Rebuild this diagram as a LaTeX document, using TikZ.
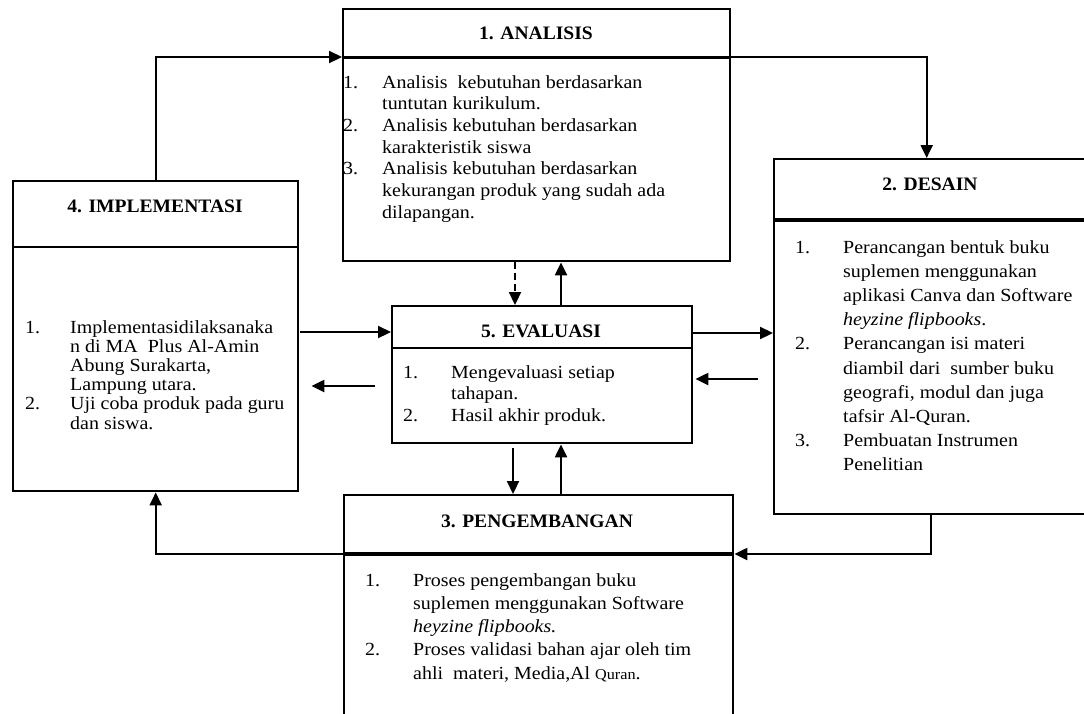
\documentclass[tikz,border=0pt]{standalone}
\usepackage{fontspec}
\setmainfont{Liberation Serif}[FakeStretch=1.08]
\newfontfamily\ttlfont{Liberation Serif}[FakeStretch=1.03]
\usetikzlibrary{arrows.meta}
\begin{document}
\begin{tikzpicture}[x=1pt,y=-1pt,
  box/.style={draw, line width=2.4pt, rectangle, inner sep=0pt, anchor=north west},
  arr/.style={line width=2.2pt, -{Triangle[length=13pt,width=12pt]}},
  hdiv/.style={line width=2.4pt},
  hdivthick/.style={line width=4pt},
  ttl/.style={font=\ttlfont\fontsize{19}{21}\selectfont\bfseries, anchor=base, inner sep=0pt},
  body/.style={anchor=base west, inner sep=0pt}
]
\fill[white] (0,0) rectangle (1084,713);
\useasboundingbox (0,0) rectangle (1084,713);

% boxes
\node[box, minimum width=387pt, minimum height=252pt] (ana) at (342,8) {};
\node[box, minimum width=317pt, minimum height=355pt] (des) at (773,158) {};
\node[box, minimum width=285pt, minimum height=310pt] (imp) at (12,180) {};
\node[box, minimum width=300pt, minimum height=137pt] (eva) at (391,305) {};
\node[box, minimum width=389pt, minimum height=232pt] (peng) at (343,494) {};

% divider coordinates
\coordinate (anaL) at (ana.west |- 0,57);
\coordinate (anaR) at (ana.east |- 0,57);
\coordinate (desL) at (des.west |- 0,220);
\coordinate (desR) at (des.east |- 0,220);
\coordinate (impL) at (imp.west |- 0,247);
\coordinate (impR) at (imp.east |- 0,247);
\coordinate (evaL) at (eva.west |- 0,348);
\coordinate (evaR) at (eva.east |- 0,348);
\coordinate (pengL) at (peng.west |- 0,554);
\coordinate (pengR) at (peng.east |- 0,554);

\draw[hdivthick, line width=3pt] (anaL) -- (anaR);
\draw[hdivthick] (desL) -- (desR);
\draw[hdiv] (impL) -- (impR);
\draw[hdiv] (evaL) -- (evaR);
\draw[hdivthick] (pengL) -- (pengR);

% titles
\node[ttl] (anaT) at (536,39) {1. ANALISIS};
\node[ttl] (desT) at (930,190) {2. DESAIN};
\node[ttl] (impT) at (155,212) {4. IMPLEMENTASI};
\node[ttl] (evaT) at (541,337) {5. EVALUASI};
\node[ttl] (pengT) at (537,527) {3. PENGEMBANGAN};

% body texts
\node[body, font=\fontsize{18.5}{21.7}\selectfont] (anaB) at (343,88) {\begin{tabular}[t]{@{}p{39pt}@{}l@{}}
1. & Analisis\ \ kebutuhan berdasarkan\\
   & tuntutan kurikulum.\\
2. & Analisis kebutuhan berdasarkan\\
   & karakteristik siswa\\
3. & Analisis kebutuhan berdasarkan\\
   & kekurangan produk yang sudah ada\\
   & dilapangan.
\end{tabular}};

\node[body, font=\fontsize{18.5}{24.2}\selectfont] (desB) at (795,253) {\begin{tabular}[t]{@{}p{48pt}@{}l@{}}
1. & Perancangan bentuk buku\\
   & suplemen menggunakan\\
   & aplikasi Canva dan Software\\
   & \textit{heyzine flipbooks}.\\
2. & Perancangan isi materi\\
   & diambil dari\ \ sumber buku\\
   & geografi, modul dan juga\\
   & tafsir Al-Quran.\\
3. & Pembuatan Instrumen\\
   & Penelitian
\end{tabular}};

\node[body, font=\fontsize{18.5}{19.2}\selectfont] (impB) at (25,333) {\begin{tabular}[t]{@{}p{45pt}@{}l@{}}
1. & Implementasidilaksanaka\\
   & n di MA\ \ Plus Al-Amin\\
   & Abung Surakarta,\\
   & Lampung utara.\\
2. & Uji coba produk pada guru\\
   & dan siswa.
\end{tabular}};

\node[body, font=\fontsize{18.5}{21.5}\selectfont] (evaB) at (403,378) {\begin{tabular}[t]{@{}p{48pt}@{}l@{}}
1. & Mengevaluasi setiap\\
   & tahapan.\\
2. & Hasil akhir produk.
\end{tabular}};

\node[body, font=\fontsize{18.5}{23.3}\selectfont] (pengB) at (365,586) {\begin{tabular}[t]{@{}p{48pt}@{}l@{}}
1. & Proses pengembangan buku\\
   & suplemen menggunakan Software\\
   & \textit{heyzine flipbooks.}\\
2. & Proses validasi bahan ajar oleh tim\\
   & ahli\ \ materi, Media,Al {\fontsize{15}{15}\selectfont Quran}.
\end{tabular}};

% helper coordinates for connectors
\coordinate (v1) at (515,0);
\coordinate (v2) at (561,0);
\coordinate (v3) at (513,448);
\coordinate (h1) at (300,332);
\coordinate (h2) at (375,386);
\coordinate (h3) at (0,333);
\coordinate (h4) at (758,379);

% connectors
\draw[arr] (imp.north) |- (anaL);
\draw[arr] (anaR) -| ([xshift=-6pt]des.north);
\draw[arr, dash pattern=on 7pt off 4pt] (v1 |- ana.south) -- (v1 |- eva.north);
\draw[arr] (v2 |- eva.north) -- (v2 |- ana.south);
\draw[arr] (h1) -- (h1 -| eva.west);
\draw[arr] (h2) -- ([xshift=12pt]h2 -| imp.east);
\draw[arr] (h3 -| eva.east) -- (h3 -| des.west);
\draw[arr] (h4) -- ([xshift=2pt]h4 -| eva.east);
\draw[arr] (v3) -- (v3 |- peng.north);
\draw[arr] (v2 |- peng.north) -- (v2 |- eva.south);
\draw[arr] ([xshift=-1.5pt]des.south) |- (pengR);
\draw[arr] (pengL) -| (imp.south);
\end{tikzpicture}
\end{document}
